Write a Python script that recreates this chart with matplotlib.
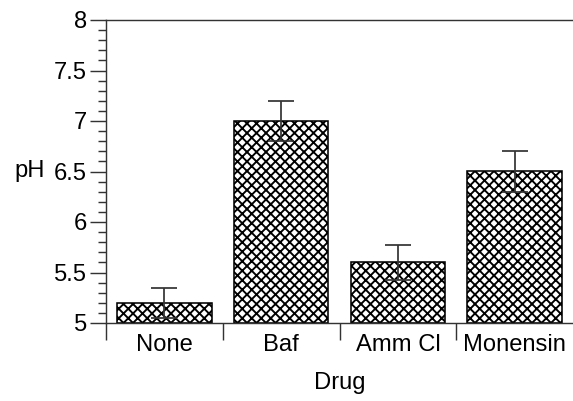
import matplotlib

matplotlib.use("Agg")
import matplotlib.pyplot as plt
import numpy as np
from matplotlib.ticker import FixedLocator, MultipleLocator, NullFormatter

drugs = ["None", "Baf", "Amm Cl", "Monensin"]
ph_mean = [5.2, 7.0, 5.6, 6.5]
ph_err = [0.15, 0.2, 0.17, 0.2]
y_ticks = [5, 5.5, 6, 6.5, 7, 7.5, 8]
y_tick_labels = ["5", "5.5", "6", "6.5", "7", "7.5", "8"]

DPI = 114
FS = 15
plt.rcParams["font.family"] = ["Liberation Sans", "DejaVu Sans"]
plt.rcParams["hatch.linewidth"] = 1.2

fig = plt.figure(figsize=(573 / DPI, 401 / DPI), dpi=DPI)
ax = fig.add_axes([106 / 573, 78 / 401, 467 / 573, 303 / 401])

x = np.arange(len(drugs)) + 0.5
ax.bar(x, [m - 5 for m in ph_mean], bottom=5, width=0.81, color="white",
       edgecolor="black", hatch="xxxx", linewidth=1.0, zorder=2)
ax.errorbar(x, ph_mean, yerr=ph_err, fmt="none", ecolor="#333333",
            elinewidth=1.1, capsize=8.2, capthick=1.1, zorder=3)

ax.set_xlim(0, 4)
ax.set_ylim(5, 8)
ax.set_yticks(y_ticks)
ax.set_yticklabels(y_tick_labels, fontsize=FS)
ax.yaxis.set_minor_locator(MultipleLocator(0.1))
ax.tick_params(axis="y", which="major", direction="out", length=10, width=0.9,
               color="#333333", pad=2)
ax.tick_params(axis="y", which="minor", direction="out", length=5, width=0.9,
               color="#333333")

# category names sit between the boundary ticks
ax.set_xticks(x)
ax.set_xticklabels(drugs, fontsize=FS)
ax.tick_params(axis="x", which="major", length=0, pad=7)
ax.xaxis.set_minor_locator(FixedLocator([0, 1, 2, 3]))
ax.xaxis.set_minor_formatter(NullFormatter())
ax.tick_params(axis="x", which="minor", direction="out", length=10.5,
               width=0.9, color="#333333")

for side in ["left", "top", "bottom"]:
    ax.spines[side].set_linewidth(0.9)
    ax.spines[side].set_color("#333333")
ax.spines["right"].set_visible(False)

ax.set_xlabel("Drug", fontsize=FS, labelpad=10)
ax.text(-0.52, 6.5, "pH", fontsize=FS, ha="right", va="center",
        transform=ax.transData, clip_on=False)

fig.savefig("out.png", dpi=DPI)
